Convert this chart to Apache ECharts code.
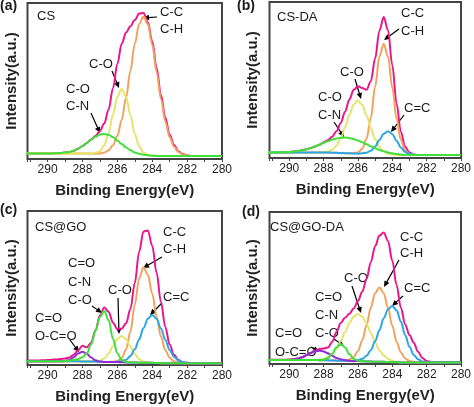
<!DOCTYPE html>
<html><head><meta charset="utf-8">
<script src="https://cdn.jsdelivr.net/npm/echarts@6/dist/echarts.min.js"></script>
<style>html,body{margin:0;padding:0;background:#fff}#c{width:474px;height:407px}</style>
</head><body><div id="c"></div>
<script>
// Binding energy grid (eV)
const xs=[291.25,291,290.75,290.5,290.25,290,289.75,289.5,289.25,289,288.75,288.5,288.25,288,287.75,287.5,287.25,287,286.75,286.5,286.25,286,285.75,285.5,285.25,285,284.75,284.5,284.25,284,283.75,283.5,283.25,283,282.75,282.5,282.25,282,281.75,281.5,281.25,281,280.75,280.5,280.25,280];
const tickLabels=[290,288,286,284,282,280];

// (a) CS
const aPink=[3.6,3.6,3.6,3.6,3.6,3.6,3.6,3.7,3.8,4.1,4.5,5.3,6.6,8.3,10.3,12.5,14.8,17.9,22.8,31.7,45.3,60.9,73.8,81.1,85.1,89.1,93.2,93.6,87.6,75.5,58.5,41,26.5,15.5,9,5,3.2,2.4,1.9,1.9,1.9,1.9,1.9,1.9,1.9,1.9];
const aOrange=[3.6,3.6,3.6,3.6,3.6,3.6,3.6,3.6,3.6,3.6,3.6,3.6,3.6,3.6,3.5,3.4,3.3,3.6,4.1,5.6,8.8,14.8,25.0,39.3,56.6,73.8,86.6,91.3,86.4,73.4,56.0,38.5,24.1,13.9,7.8,4.5,2.9,2.3,1.9,1.9,1.9,1.9,1.9,1.9,1.9,1.9];
const aYellow=[3.6,3.6,3.6,3.6,3.6,3.6,3.6,3.6,3.6,3.6,3.6,3.6,3.6,3.6,3.5,3.5,3.8,5.0,8.8,16.6,28.4,39.9,44.8,39.8,28.1,16.1,8.1,4.1,2.7,2.2,2.0,1.9,1.9,1.9,1.9,1.9,1.9,1.9,1.9,1.9,1.9,1.9,1.9,1.9,1.9,1.9];
const aGreen=[3.6,3.6,3.6,3.6,3.6,3.6,3.6,3.7,3.8,4.1,4.5,5.3,6.6,8.3,10.3,12.4,14.3,15.7,16.1,15.5,13.9,11.8,9.6,7.4,5.6,4.2,3.3,2.8,2.4,2.1,2.0,1.9,1.9,1.9,1.9,1.9,1.9,1.9,1.9,1.9,1.9,1.9,1.9,1.9,1.9,1.9];

// (b) CS-DA
const bPink=[3.6,3.6,3.6,3.7,3.8,3.9,4.2,4.5,5.0,5.6,6.4,7.4,8.5,9.9,11.4,13.7,17.1,22.5,29.7,37.5,43.7,46.0,44.8,43.8,49.2,63.8,81.6,90.4,81.9,59.5,34.8,16.7,7.2,3.5,2.3,1.9,1.9,1.9,1.9,1.9,1.9,1.9,1.9,1.9,1.9,1.9];
const bOrange=[3.6,3.6,3.6,3.6,3.6,3.6,3.6,3.6,3.6,3.6,3.6,3.6,3.6,3.6,3.5,3.4,3.3,3.2,3.1,3.0,3.1,3.6,5.9,12.3,25.7,45.6,65.1,73.3,64.9,45.2,25.1,11.5,5.0,2.7,2.1,1.9,1.9,1.9,1.9,1.9,1.9,1.9,1.9,1.9,1.9,1.9];
const bYellow=[3.6,3.6,3.6,3.6,3.6,3.6,3.6,3.6,3.6,3.6,3.6,3.6,3.6,3.8,4.1,5.3,7.9,12.7,19.7,27.7,34.3,36.8,34.2,27.4,19.2,12.0,7.0,4.2,2.8,2.3,2.0,1.9,1.9,1.9,1.9,1.9,1.9,1.9,1.9,1.9,1.9,1.9,1.9,1.9,1.9,1.9];
const bGreen=[3.6,3.6,3.6,3.7,3.8,3.9,4.2,4.5,5.0,5.6,6.4,7.4,8.5,9.7,10.8,11.8,12.5,13.0,13.1,12.8,12.1,11.2,10.1,8.8,7.5,6.3,5.2,4.3,3.6,3.0,2.6,2.2,2.1,2.0,1.9,1.9,1.9,1.9,1.9,1.9,1.9,1.9,1.9,1.9,1.9,1.9];
const bBlue=[3.6,3.6,3.6,3.6,3.6,3.6,3.6,3.6,3.6,3.6,3.6,3.6,3.6,3.6,3.5,3.4,3.3,3.2,3.1,3.0,2.9,2.8,3.0,3.4,4.6,7.4,11.5,15.5,17.2,15.3,11.1,6.8,3.9,2.6,2.1,1.9,1.9,1.9,1.9,1.9,1.9,1.9,1.9,1.9,1.9,1.9];

// (c) CS@GO
const cPink=[2.8,2.9,3.0,3.0,3.1,3.2,3.4,3.6,3.9,4.2,4.8,6.6,9.5,12.5,11.5,14.5,22.5,32.1,37.3,34.6,27.5,23.4,23.6,27.1,36.3,53.3,73.6,86.7,87.4,77.4,60.1,40.9,24.7,13.3,6.6,3.3,1.8,1.4,1.2,1.2,1.2,1.2,1.2,1.2,1.2,1.2];
const cOrange=[2.4,2.4,2.4,2.4,2.4,2.4,2.4,2.4,2.4,2.4,2.4,2.4,2.4,2.3,2.3,2.2,2.2,2.1,2.0,2.0,2.1,2.6,4.5,10.1,21.8,39.2,56.2,63.5,58.6,46.4,31.5,18.4,9.6,4.7,2.4,1.6,1.2,1.2,1.2,1.2,1.2,1.2,1.2,1.2,1.2,1.2];
const cYellow=[2.4,2.4,2.4,2.4,2.4,2.4,2.4,2.4,2.4,2.4,2.4,2.4,2.4,2.3,2.3,2.2,2.4,2.8,4.3,7.5,12.2,16.9,18.8,16.7,12.0,7.1,3.8,2.2,1.6,1.4,1.3,1.2,1.2,1.2,1.2,1.2,1.2,1.2,1.2,1.2,1.2,1.2,1.2,1.2,1.2,1.2];
const cBlue=[2.4,2.4,2.4,2.4,2.4,2.4,2.4,2.4,2.4,2.4,2.4,2.4,2.4,2.3,2.3,2.2,2.2,2.1,2.0,2.0,1.9,2.1,2.4,3.4,5.9,10.2,16.6,24.0,30.0,32.4,29.9,23.7,16.3,9.8,5.4,2.9,1.8,1.4,1.2,1.2,1.2,1.2,1.2,1.2,1.2,1.2];
const cGreen=[2.4,2.4,2.4,2.4,2.4,2.4,2.4,2.4,2.4,2.6,2.8,3.3,3.9,5.0,7.6,13.4,22.2,31.2,35.0,29.1,17.0,7.5,3.3,2.0,1.7,1.6,1.5,1.5,1.4,1.4,1.3,1.2,1.2,1.2,1.2,1.2,1.2,1.2,1.2,1.2,1.2,1.2,1.2,1.2,1.2,1.2];
const cPurple=[2.4,2.4,2.4,2.4,2.4,2.4,2.4,2.4,2.4,2.6,3.3,5.0,7.4,8.6,7.3,4.8,3.1,2.3,2.0,2.0,1.9,1.9,1.8,1.7,1.7,1.6,1.5,1.5,1.4,1.4,1.3,1.2,1.2,1.2,1.2,1.2,1.2,1.2,1.2,1.2,1.2,1.2,1.2,1.2,1.2,1.2];

// (d) CS@GO-DA
const dPink=[2.8,2.8,2.8,2.8,2.8,3.0,3.2,3.6,4.5,5.8,7.4,8.8,9.8,10.2,10.8,14.5,21.0,27.0,30.5,33.0,36.5,41.5,47.5,56.0,67.0,77.5,84.5,86.5,81.0,68.0,52.0,37.0,26.0,19.0,14.0,8.0,4.0,2.0,1.3,1.0,1.0,1.0,1.0,1.0,1.0,1.0];
const dOrange=[2.6,2.6,2.6,2.6,2.6,2.6,2.6,2.6,2.6,2.6,2.6,2.6,2.5,2.5,2.4,2.3,2.2,2.2,2.4,2.9,4.6,8.5,15.4,25.6,37.2,46.7,50.4,46.6,36.9,25.1,14.7,7.6,3.7,1.9,1.3,1.0,1.0,1.0,1.0,1.0,1.0,1.0,1.0,1.0,1.0,1.0];
const dYellow=[2.6,2.6,2.6,2.6,2.6,2.6,2.6,2.6,2.6,2.6,2.6,2.6,2.8,3.4,4.4,6.5,9.9,14.9,20.9,26.8,31.2,32.9,31.1,26.5,20.4,14.2,9.1,5.6,3.3,2.1,1.4,1.0,1.0,1.0,1.0,1.0,1.0,1.0,1.0,1.0,1.0,1.0,1.0,1.0,1.0,1.0];
const dBlue=[2.6,2.6,2.6,2.6,2.6,2.6,2.6,2.6,2.6,2.6,2.6,2.6,2.5,2.5,2.4,2.3,2.2,2.2,2.1,2.0,2.1,2.5,3.4,5.4,9.1,14.9,22.2,30.1,36.0,38.2,35.3,27.9,19.0,11.3,6.0,3.1,1.7,1.2,1.0,1.0,1.0,1.0,1.0,1.0,1.0,1.0];
const dGreen=[2.6,2.6,2.6,2.6,2.6,2.6,2.6,2.6,2.6,2.6,2.6,2.6,2.5,2.8,3.9,6.8,11.0,13.2,10.9,6.5,3.4,2.2,1.8,1.7,1.6,1.5,1.4,1.4,1.3,1.2,1.1,1.0,1.0,1.0,1.0,1.0,1.0,1.0,1.0,1.0,1.0,1.0,1.0,1.0,1.0,1.0];
const dPurple=[2.6,2.6,2.6,2.6,2.6,2.7,3.0,3.5,4.4,5.7,7.2,8.4,8.8,8.3,7.0,5.4,4.0,3.1,2.5,2.1,1.9,1.9,1.8,1.7,1.6,1.5,1.4,1.4,1.3,1.2,1.1,1.0,1.0,1.0,1.0,1.0,1.0,1.0,1.0,1.0,1.0,1.0,1.0,1.0,1.0,1.0];

const PINK='#E8178A', ORANGE='#F2A25E', YELLOW='#E6E36A', GREEN='#3FE03A', BLUE='#2BA6E4', PURPLE='#8E2FD6';
const FONT='"Liberation Sans", Arial, sans-serif';

const panels=[
  {grid:{left:27.5,top:3,width:194.5,height:156}, yGap:8,
   curves:[[aPink,PINK],[aOrange,ORANGE],[aYellow,YELLOW],[aGreen,GREEN]]},
  {grid:{left:269.5,top:2,width:194,height:156}, yGap:9.5,
   curves:[[bPink,PINK],[bOrange,ORANGE],[bYellow,YELLOW],[bBlue,BLUE],[bGreen,GREEN]]},
  {grid:{left:27.5,top:211,width:194.5,height:154}, yGap:8,
   curves:[[cPink,PINK],[cOrange,ORANGE],[cYellow,YELLOW],[cBlue,BLUE],[cPurple,PURPLE],[cGreen,GREEN]]},
  {grid:{left:269.5,top:212,width:194,height:152}, yGap:9.5,
   curves:[[dPink,PINK],[dOrange,ORANGE],[dYellow,YELLOW],[dBlue,BLUE],[dPurple,PURPLE],[dGreen,GREEN]]}
];

// annotation texts: [text, x, y, bold, size]
const texts=[
  ['(a)',0,6,true,14],['CS',37,16],['C-C',160,12],['C-H',160,29],['C-O',89,64],['C-O',66,89],['C-N',66,106],
  ['(b)',237,6,true,14],['CS-DA',277,17],['C-C',401,13],['C-H',401,31],['C-O',340,72],['C-O',318,97],['C-N',318,115],['C=C',404,108],
  ['(c)',0,210,true,14],['CS@GO',35,227],['C-C',163,232],['C-H',163,249],['C=O',68,263],['C-N',68,282],['C-O',68,300],['C-O',108,290],['C=C',163,297],['C=O',35,318],['O-C=O',35,336],
  ['(d)',242,212,true,14],['CS@GO-DA',270,227],['C-C',400,237],['C-H',400,253],['C=C',404,288],['C-O',344,278],['C=O',315,297],['C-N',315,315],['C-O',315,333],['C=O',275,333],['O-C=O',275,352]
];
// arrows: [tailX, tailY, tipX, tipY]
const arrows=[
  [157,17,143,18],[112,71,119,88],[91,113,100,133],
  [399,29,384,40],[355,79,361,99],[334,122,344,137],[404,115,391,132],
  [162,257,143,268],[92,306,102,313],[118,298,119,334],[162,303,150,315],[70,340,79,352],
  [399,260,384,287],[403,296,392,306],[352,286,361,313],[334,339,344,346],[311,347,319,352]
];

const grid=[], xAxis=[], yAxis=[], series=[];
panels.forEach((p,gi)=>{
  grid.push(Object.assign({show:true,borderColor:'#444',borderWidth:2,backgroundColor:'transparent'},p.grid));
  xAxis.push({gridIndex:gi,type:'value',inverse:true,min:280,max:291.15,interval:1,
    axisLine:{show:false},
    axisTick:{show:true,inside:false,length:3,lineStyle:{color:'#444',width:1}},
    axisLabel:{color:'#222',fontSize:12,fontFamily:FONT,margin:5,
      formatter:v=>tickLabels.indexOf(Math.round(v*100)/100)>=0?String(v):''},
    splitLine:{show:false},
    name:'Binding Energy(eV)',nameLocation:'middle',nameGap:24.5,
    nameTextStyle:{fontWeight:'bold',fontSize:15,color:'#222',fontFamily:FONT}});
  yAxis.push({gridIndex:gi,type:'value',min:0,max:100,
    axisLine:{show:false},axisTick:{show:false},axisLabel:{show:false},splitLine:{show:false},
    name:'Intensity(a.u.)',nameLocation:'middle',nameGap:p.yGap,nameRotate:90,
    nameTextStyle:{fontWeight:'bold',fontSize:15,color:'#222',fontFamily:FONT}});
  p.curves.forEach(([arr,col])=>{
    series.push({type:'line',xAxisIndex:gi,yAxisIndex:gi,data:xs.map((x,i)=>[x,arr[i]]),
      showSymbol:false,symbol:'none',smooth:0.35,smoothMonotone:'x',clip:true,
      lineStyle:{color:col,width:2},itemStyle:{color:col},silent:true});
  });
});

const graphic=[];
texts.forEach(([t,x,y,b,s])=>{
  graphic.push({type:'text',x:x,y:y,silent:true,
    style:{text:t,fill:'#1a1a1a',font:(b?'bold ':'')+(s||13)+'px '+FONT,verticalAlign:'middle',align:'left'}});
});
arrows.forEach(([x1,y1,x2,y2])=>{
  const dx=x2-x1, dy=y2-y1, L=Math.hypot(dx,dy), ux=dx/L, uy=dy/L, nx=-uy, ny=ux;
  const hl=6, hw=2.8;
  const bx=x2-ux*hl, by=y2-uy*hl;
  graphic.push({type:'line',silent:true,shape:{x1:x1,y1:y1,x2:bx+ux*1,y2:by+uy*1},style:{stroke:'#000',lineWidth:1.2}});
  graphic.push({type:'polygon',silent:true,shape:{points:[[x2,y2],[bx+nx*hw,by+ny*hw],[bx-nx*hw,by-ny*hw]]},style:{fill:'#000'}});
});

const chart=echarts.init(document.getElementById('c'),null,{renderer:'canvas'});
chart.setOption({animation:false,backgroundColor:'#fff',textStyle:{fontFamily:FONT},
  grid,xAxis,yAxis,series,graphic});
</script></body></html>
